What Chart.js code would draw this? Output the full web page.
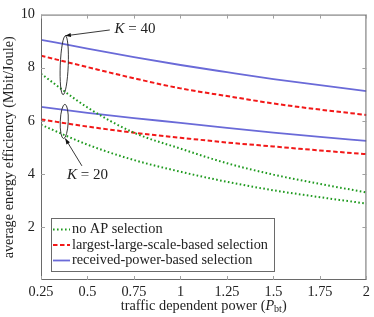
<!DOCTYPE html>
<html>
<head>
<meta charset="utf-8">
<script src="https://cdn.jsdelivr.net/npm/chart.js@4.4.1/dist/chart.umd.min.js"></script>
<style>
  html, body { margin: 0; padding: 0; background: #fff; }
  #wrap { width: 374px; height: 317px; }
</style>
</head>
<body>
<div id="wrap"><canvas id="chart" width="374" height="317"></canvas></div>
<script>
// data
let xValues = [0.25, 0.5, 0.75, 1, 1.25, 1.5, 1.75, 2];
let noSel40 = [7.77, 6.5, 5.55, 4.95, 4.4, 3.97, 3.62, 3.3];
let largest40 = [8.45, 8.02, 7.6, 7.22, 6.93, 6.65, 6.42, 6.22];
let received40 = [9.05, 8.72, 8.4, 8.1, 7.83, 7.57, 7.34, 7.12];
let noSel20 = [5.85, 5.1, 4.52, 4.08, 3.7, 3.38, 3.12, 2.88];
let largest20 = [6.05, 5.78, 5.55, 5.36, 5.18, 5.03, 4.88, 4.74];
let received20 = [6.52, 6.3, 6.1, 5.92, 5.73, 5.55, 5.39, 5.24];
let xTickLabels = ['0.25', '0.5', '0.75', '1', '1.25', '1.5', '1.75', '2'];
let yTickLabels = ['', '2', '4', '6', '8', '10'];
let legendLabels = ['no AP selection', 'largest-large-scale-based selection', 'received-power-based selection'];

const SERIF = '"Liberation Serif", "DejaVu Serif", serif';
const FS = 14.3;
const GREEN = '#1f9a1f';
const RED = '#f21818';
const BLUE = '#6a6ad8';

function pts(ys) {
    return ys.map((y, i) => ({ x: xValues[i], y: y }));
}

function series(ys, color, dash, width) {
    return {
        data: pts(ys),
        borderColor: color,
        borderWidth: width,
        borderDash: dash,
        pointRadius: 0,
        fill: false,
        cubicInterpolationMode: 'monotone'
    };
}

const styles = [
    { color: GREEN, dash: [1.6, 2.4], width: 2 },
    { color: RED, dash: [4.5, 2.5], width: 2 },
    { color: BLUE, dash: [], width: 1.8 }
];

function arrow(ctx, x1, y1, x2, y2) {
    ctx.beginPath();
    ctx.moveTo(x1, y1);
    ctx.lineTo(x2, y2);
    ctx.stroke();
    let a = Math.atan2(y2 - y1, x2 - x1);
    ctx.beginPath();
    ctx.moveTo(x2, y2);
    ctx.lineTo(x2 - 6 * Math.cos(a - 0.35), y2 - 6 * Math.sin(a - 0.35));
    ctx.lineTo(x2 - 6 * Math.cos(a + 0.35), y2 - 6 * Math.sin(a + 0.35));
    ctx.closePath();
    ctx.fill();
}

function kLabel(ctx, text, cx, cy) {
    ctx.font = 'italic 15px ' + SERIF;
    let wK = ctx.measureText('K').width;
    ctx.font = '15px ' + SERIF;
    let wRest = ctx.measureText(text).width;
    let x0 = cx - (wK + wRest) / 2;
    ctx.textBaseline = 'middle';
    ctx.textAlign = 'left';
    ctx.font = 'italic 15px ' + SERIF;
    ctx.fillText('K', x0, cy);
    ctx.font = '15px ' + SERIF;
    ctx.fillText(text, x0 + wK, cy);
}

const extras = {
    id: 'extras',
    afterDraw(chart) {
        let ctx = chart.ctx;
        let a = chart.chartArea;
        let xs = chart.scales.x;
        let ys = chart.scales.y;
        ctx.save();

        // frame and inward ticks
        ctx.strokeStyle = '#6a6a6a';
        ctx.lineWidth = 1;
        ctx.strokeRect(a.left + 0.5, a.top + 0.5, a.right - a.left - 1, a.bottom - a.top - 1);
        ctx.strokeStyle = '#a0a0a0';
        ctx.beginPath();
        xValues.forEach(v => {
            let px = Math.round(xs.getPixelForValue(v)) + 0.5;
            ctx.moveTo(px, a.bottom); ctx.lineTo(px, a.bottom - 4);
            ctx.moveTo(px, a.top); ctx.lineTo(px, a.top + 4);
        });
        [2, 4, 6, 8].forEach(v => {
            let py = Math.round(ys.getPixelForValue(v)) + 0.5;
            ctx.moveTo(a.left, py); ctx.lineTo(a.left + 4, py);
            ctx.moveTo(a.right, py); ctx.lineTo(a.right - 4, py);
        });
        ctx.stroke();

        // ellipses and arrows
        ctx.strokeStyle = '#222';
        ctx.fillStyle = '#111';
        ctx.lineWidth = 0.9;
        let ex = xs.getPixelForValue(0.375);
        let e40a = ys.getPixelForValue(9.2), e40b = ys.getPixelForValue(6.98);
        let e20a = ys.getPixelForValue(6.62), e20b = ys.getPixelForValue(5.33);
        ctx.beginPath();
        ctx.ellipse(ex, (e40a + e40b) / 2, 4, (e40b - e40a) / 2, 0.04, 0, Math.PI * 2);
        ctx.stroke();
        ctx.beginPath();
        ctx.ellipse(ex, (e20a + e20b) / 2, 4, (e20b - e20a) / 2, 0.04, 0, Math.PI * 2);
        ctx.stroke();
        arrow(ctx, xs.getPixelForValue(0.62), ys.getPixelForValue(9.42), ex + 1, e40a);
        arrow(ctx, xs.getPixelForValue(0.47), ys.getPixelForValue(4.3), ex + 1, e20b);
        ctx.fillStyle = '#222';
        kLabel(ctx, ' = 40', xs.getPixelForValue(0.755), ys.getPixelForValue(9.45));
        kLabel(ctx, ' = 20', xs.getPixelForValue(0.5), ys.getPixelForValue(3.97));

        // legend box
        let lx = a.left + 10, ly = 218, lw = 223, lh = 53;
        ctx.fillStyle = '#fff';
        ctx.fillRect(lx, ly, lw, lh);
        ctx.strokeStyle = '#6a6a6a';
        ctx.lineWidth = 1;
        ctx.strokeRect(lx + 0.5, ly + 0.5, lw, lh);
        ctx.font = FS + 'px ' + SERIF;
        ctx.textBaseline = 'middle';
        ctx.textAlign = 'left';
        legendLabels.forEach((t, i) => {
            let cy = ly + 11.5 + i * 15.5;
            let s = styles[i];
            ctx.strokeStyle = s.color;
            ctx.lineWidth = s.width;
            ctx.setLineDash(s.dash);
            ctx.beginPath();
            ctx.moveTo(lx + 2, cy);
            ctx.lineTo(lx + 19, cy);
            ctx.stroke();
            ctx.setLineDash([]);
            ctx.fillStyle = '#222';
            ctx.fillText(t, lx + 21, cy);
        });

        // x axis title with subscript
        let tx = (a.left + a.right) / 2;
        let ty = 306;
        let p1 = 'traffic dependent power (';
        ctx.font = FS + 'px ' + SERIF;
        let w1 = ctx.measureText(p1).width;
        ctx.font = 'italic ' + FS + 'px ' + SERIF;
        let wP = ctx.measureText('P').width;
        ctx.font = '10px ' + SERIF;
        let wS = ctx.measureText('bt').width;
        ctx.font = FS + 'px ' + SERIF;
        let wC = ctx.measureText(')').width;
        let x0 = tx - (w1 + wP + wS + wC) / 2;
        ctx.fillStyle = '#222';
        ctx.fillText(p1, x0, ty);
        ctx.font = 'italic ' + FS + 'px ' + SERIF;
        ctx.fillText('P', x0 + w1, ty);
        ctx.font = '10px ' + SERIF;
        ctx.fillText('bt', x0 + w1 + wP, ty + 3);
        ctx.font = FS + 'px ' + SERIF;
        ctx.fillText(')', x0 + w1 + wP + wS, ty);
        ctx.restore();
    }
};

new Chart(document.getElementById('chart'), {
    type: 'line',
    data: {
        datasets: [
            series(noSel40, styles[0].color, styles[0].dash, styles[0].width),
            series(noSel20, styles[0].color, styles[0].dash, styles[0].width),
            series(largest40, styles[1].color, styles[1].dash, styles[1].width),
            series(largest20, styles[1].color, styles[1].dash, styles[1].width),
            series(received40, styles[2].color, styles[2].dash, styles[2].width),
            series(received20, styles[2].color, styles[2].dash, styles[2].width)
        ]
    },
    options: {
        responsive: false,
        animation: false,
        layout: { padding: { top: 6, right: 5, left: 0, bottom: 0 } },
        plugins: {
            legend: { display: false },
            tooltip: { enabled: false }
        },
        scales: {
            x: {
                type: 'linear',
                min: 0.25,
                max: 2,
                afterBuildTicks: (scale) => { scale.ticks = xValues.map(v => ({ value: v })); },
                afterFit: (scale) => { scale.height = 37; },
                grid: { display: false, drawTicks: false },
                border: { display: false },
                ticks: {
                    padding: 4,
                    color: '#222',
                    font: { family: SERIF, size: FS },
                    maxRotation: 0,
                    autoSkip: false,
                    callback: (v, i) => xTickLabels[i]
                }
            },
            y: {
                type: 'linear',
                min: 0,
                max: 10,
                afterBuildTicks: (scale) => { scale.ticks = [0, 2, 4, 6, 8, 10].map(v => ({ value: v })); },
                afterFit: (scale) => { scale.width = 41; },
                grid: { display: false, drawTicks: false },
                border: { display: false },
                ticks: {
                    padding: 6,
                    color: '#222',
                    font: { family: SERIF, size: FS },
                    callback: (v, i) => yTickLabels[i]
                },
                title: {
                    display: true,
                    text: 'average energy efficiency (Mbit/Joule)',
                    color: '#222',
                    font: { family: SERIF, size: FS },
                    padding: { top: 1, bottom: 0 }
                }
            }
        }
    },
    plugins: [extras]
});
</script>
</body>
</html>
